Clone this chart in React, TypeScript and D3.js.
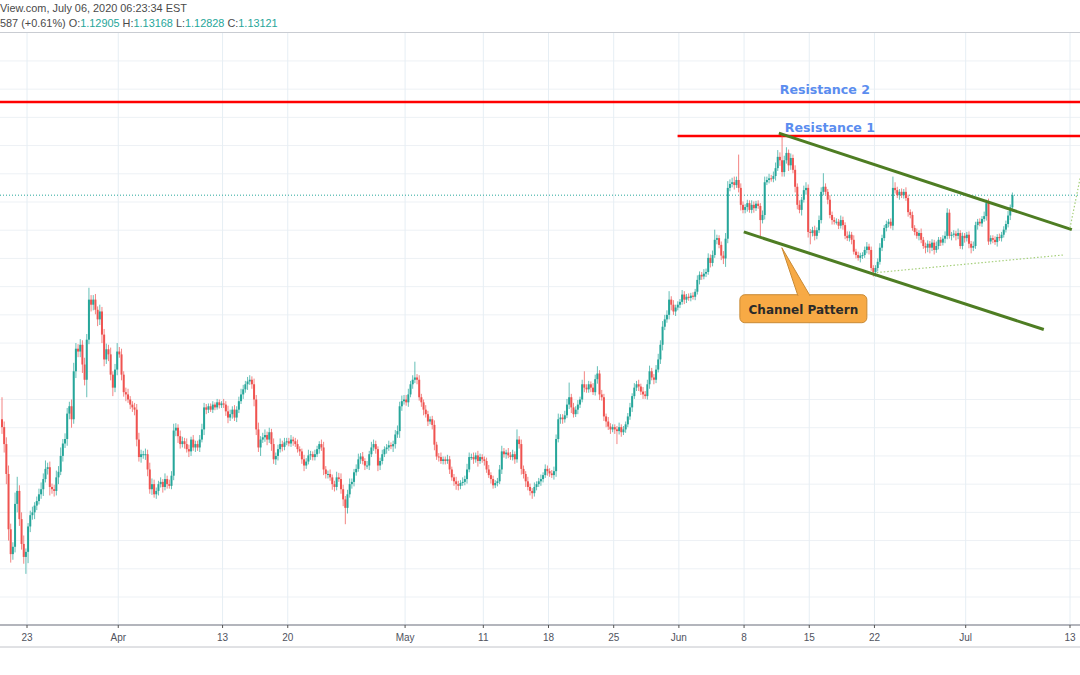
import React from "react";
import * as d3 from "d3";

// EUR/USD 4-hour candles. Closes in pips above 1.0000 (1312 = 1.1312), six candles per trading day.
const closesMar19 = [901, 871, 818, 720, 676, 689, 765, 788, 738, 694, 671, 680];
const closesMar23 = [725, 745, 750, 762, 770, 782, 791, 809, 827, 830, 795, 791, 788, 812, 822, 850, 872, 880, 925, 938, 915, 1000, 1040, 1035, 1047, 1012, 985, 1056, 1127, 1118];
const closesMar30 = [1127, 1109, 1092, 1106, 1065, 1021, 1039, 1030, 994, 971, 1003, 1035, 1030, 994, 963, 959, 950, 941, 936, 932, 879, 848, 853, 853, 853, 826, 791, 800, 782, 788];
const closesApr06 = [800, 804, 795, 809, 800, 797, 815, 895, 900, 885, 871, 876, 871, 862, 858, 879, 865, 871, 865, 879, 897, 936, 932, 938, 932, 941, 936, 945, 940, 943];
const closesApr13 = [941, 929, 918, 924, 932, 918, 932, 947, 959, 968, 977, 982, 985, 977, 950, 897, 865, 879, 883, 887, 879, 892, 871, 844, 850, 862, 871, 866, 874, 876];
const closesApr20 = [872, 879, 876, 871, 862, 858, 844, 833, 840, 851, 853, 848, 853, 862, 871, 865, 826, 818, 818, 812, 800, 795, 812, 809, 791, 773, 758, 782, 800, 804];
const closesApr27 = [821, 827, 844, 849, 841, 833, 833, 853, 865, 871, 862, 833, 841, 853, 862, 865, 869, 867, 871, 888, 894, 938, 947, 950, 945, 959, 977, 985, 989, 985];
const closesMay04 = [954, 945, 932, 924, 911, 915, 905, 870, 849, 848, 841, 844, 841, 844, 826, 812, 805, 800, 797, 802, 804, 809, 826, 848, 848, 844, 851, 841, 848, 844];
const closesMay11 = [841, 826, 816, 809, 798, 802, 805, 826, 858, 853, 856, 851, 848, 853, 844, 879, 871, 827, 818, 805, 795, 788, 784, 795, 800, 805, 809, 816, 827, 823];
const closesMay18 = [819, 816, 823, 880, 915, 918, 915, 922, 941, 954, 936, 924, 932, 941, 950, 977, 971, 968, 977, 971, 963, 986, 996, 959, 954, 920, 911, 902, 897, 901];
const closesMay25 = [897, 894, 901, 892, 897, 906, 920, 936, 956, 971, 977, 973, 964, 959, 956, 977, 1000, 989, 985, 1003, 1021, 1047, 1079, 1092, 1100, 1127, 1118, 1106, 1113, 1118];
const closesJun01 = [1123, 1136, 1127, 1132, 1130, 1134, 1132, 1141, 1162, 1171, 1168, 1173, 1176, 1201, 1192, 1206, 1233, 1236, 1224, 1205, 1200, 1235, 1325, 1332, 1335, 1330, 1339, 1325, 1295, 1286];
const closesJun08 = [1291, 1298, 1286, 1295, 1289, 1297, 1293, 1268, 1277, 1335, 1339, 1342, 1341, 1346, 1360, 1380, 1374, 1353, 1374, 1387, 1365, 1378, 1357, 1327, 1295, 1286, 1304, 1321, 1325, 1247];
const closesJun15 = [1245, 1250, 1240, 1250, 1268, 1318, 1327, 1318, 1304, 1277, 1268, 1265, 1265, 1258, 1268, 1259, 1240, 1236, 1242, 1233, 1212, 1206, 1201, 1205, 1206, 1215, 1221, 1215, 1183, 1176];
const closesJun22 = [1183, 1194, 1219, 1236, 1254, 1261, 1265, 1258, 1325, 1321, 1312, 1318, 1312, 1318, 1307, 1282, 1277, 1254, 1247, 1240, 1245, 1233, 1222, 1219, 1226, 1219, 1228, 1215, 1222, 1233];
const closesJun29 = [1228, 1235, 1240, 1281, 1240, 1242, 1244, 1240, 1245, 1222, 1240, 1236, 1242, 1226, 1219, 1222, 1259, 1265, 1262, 1270, 1275, 1298, 1230, 1236, 1233, 1229, 1238, 1236, 1242, 1251];
const closesJul06 = [1261, 1276, 1290.5, 1312.1];

// upper / lower wick lengths in pips beyond the candle body
const hiMar19 = [39, 10, 12, 15, 10, 8, 20, 25, 10, 12, 15, 6];
const loMar19 = [12, 15, 18, 20, 15, 10, 10, 15, 12, 10, 12, 30];
const hiMar23 = [6, 8, 10, 6, 8, 10, 12, 10, 15, 8, 10, 6, 8, 12, 10, 15, 8, 10, 10, 8, 12, 15, 10, 8, 10, 8, 12, 10, 21, 8];
const loMar23 = [20, 10, 8, 12, 8, 6, 8, 12, 6, 10, 15, 8, 10, 8, 12, 6, 10, 8, 12, 10, 15, 8, 12, 10, 10, 15, 10, 31, 8, 12];
const hiMar30 = [8, 10, 6, 12, 8, 10, 10, 8, 12, 6, 10, 15, 8, 10, 6, 8, 10, 6, 6, 8, 10, 12, 8, 6, 10, 8, 12, 10, 8, 6];
const loMar30 = [10, 8, 12, 10, 15, 12, 8, 12, 10, 15, 8, 10, 6, 10, 8, 12, 6, 8, 8, 10, 12, 8, 10, 8, 10, 12, 8, 10, 6, 8];
const hiApr06 = [6, 8, 5, 10, 6, 8, 8, 12, 8, 6, 10, 8, 6, 10, 8, 5, 8, 6, 6, 8, 10, 8, 6, 5, 5, 6, 4, 6, 5, 4];
const loApr06 = [8, 6, 10, 6, 8, 5, 6, 8, 10, 12, 8, 6, 8, 6, 10, 8, 6, 8, 6, 8, 5, 10, 8, 6, 4, 6, 5, 4, 6, 5];
const hiApr13 = [8, 6, 10, 8, 6, 8, 6, 8, 10, 8, 6, 8, 8, 6, 10, 8, 12, 6, 8, 10, 6, 8, 6, 10, 6, 8, 10, 6, 8, 6];
const loApr13 = [6, 8, 10, 6, 8, 6, 8, 6, 5, 8, 6, 10, 6, 8, 12, 10, 8, 15, 6, 8, 10, 6, 12, 8, 10, 8, 6, 8, 6, 5];
const hiApr20 = [6, 8, 5, 6, 8, 5, 5, 8, 6, 10, 6, 5, 8, 6, 5, 8, 10, 6, 6, 8, 5, 6, 10, 8, 10, 8, 6, 8, 10, 6];
const loApr20 = [5, 6, 8, 5, 6, 8, 8, 10, 6, 5, 8, 6, 6, 5, 8, 6, 10, 8, 8, 6, 10, 8, 6, 5, 8, 12, 29, 10, 6, 8];
const hiApr27 = [6, 8, 10, 6, 8, 5, 8, 6, 10, 8, 6, 5, 6, 8, 5, 6, 8, 5, 6, 8, 10, 8, 10, 8, 8, 10, 6, 8, 28, 6];
const loApr27 = [8, 6, 5, 8, 6, 8, 6, 8, 5, 6, 8, 10, 8, 6, 5, 8, 6, 5, 10, 8, 6, 12, 8, 6, 6, 8, 5, 8, 6, 8];
const hiMay04 = [8, 6, 5, 8, 6, 5, 6, 8, 5, 6, 8, 5, 5, 8, 6, 5, 6, 8, 6, 5, 8, 6, 10, 8, 6, 8, 5, 8, 6, 5];
const loMay04 = [6, 8, 10, 6, 8, 5, 8, 10, 6, 8, 5, 6, 6, 5, 8, 6, 8, 10, 8, 6, 5, 6, 8, 5, 5, 8, 6, 10, 5, 6];
const hiMay11 = [5, 6, 8, 5, 6, 5, 6, 8, 10, 6, 5, 8, 6, 8, 5, 18, 6, 8, 6, 5, 8, 6, 5, 8, 5, 6, 8, 5, 8, 6];
const loMay11 = [8, 6, 5, 8, 6, 5, 6, 5, 8, 6, 8, 5, 5, 6, 8, 6, 8, 10, 8, 10, 6, 8, 10, 6, 6, 5, 8, 6, 5, 8];
const hiMay18 = [5, 6, 8, 8, 10, 6, 6, 8, 10, 26, 6, 8, 6, 8, 5, 8, 23, 6, 6, 5, 8, 8, 13, 6, 8, 6, 5, 8, 6, 5];
const loMay18 = [6, 5, 8, 10, 6, 8, 8, 6, 5, 8, 10, 6, 5, 8, 6, 5, 8, 6, 6, 8, 5, 6, 8, 10, 6, 8, 10, 6, 8, 5];
const hiMay25 = [5, 6, 8, 5, 6, 5, 6, 8, 5, 8, 6, 8, 5, 8, 6, 8, 10, 6, 6, 8, 10, 8, 10, 8, 8, 15, 6, 8, 5, 6];
const loMay25 = [8, 23, 6, 8, 5, 6, 5, 6, 8, 5, 6, 8, 6, 8, 5, 6, 8, 5, 8, 6, 5, 8, 10, 6, 6, 8, 10, 6, 8, 5];
const hiJun01 = [5, 8, 6, 5, 6, 5, 6, 5, 8, 6, 5, 8, 6, 8, 6, 8, 18, 6, 5, 6, 8, 10, 12, 8, 8, 10, 6, 45, 8, 6];
const loJun01 = [6, 5, 8, 6, 5, 6, 5, 6, 5, 8, 6, 5, 6, 5, 8, 6, 5, 8, 6, 8, 10, 15, 8, 6, 6, 8, 5, 8, 10, 6];
const hiJun08 = [5, 6, 5, 8, 6, 5, 6, 5, 8, 10, 6, 8, 6, 8, 10, 12, 8, 48, 8, 10, 6, 8, 6, 8, 6, 8, 5, 8, 10, 6];
const loJun08 = [6, 8, 5, 6, 8, 5, 5, 30, 6, 8, 5, 6, 5, 6, 8, 5, 10, 8, 8, 6, 10, 8, 6, 10, 8, 6, 10, 5, 8, 10];
const hiJun15 = [5, 6, 8, 5, 8, 8, 24, 6, 5, 8, 6, 5, 6, 5, 8, 6, 5, 8, 6, 5, 8, 5, 6, 5, 5, 6, 8, 5, 6, 5];
const loJun15 = [20, 6, 8, 6, 5, 6, 6, 5, 8, 6, 8, 5, 5, 6, 5, 8, 6, 5, 6, 8, 5, 6, 5, 8, 6, 5, 6, 8, 5, 8];
const hiJun22 = [5, 6, 8, 6, 5, 6, 5, 6, 20, 10, 6, 5, 6, 5, 8, 6, 5, 6, 5, 6, 5, 8, 5, 6, 6, 5, 6, 5, 8, 5];
const loJun22 = [8, 6, 5, 6, 5, 6, 6, 5, 8, 6, 5, 8, 5, 6, 5, 8, 6, 5, 6, 5, 8, 6, 5, 10, 8, 10, 6, 8, 5, 6];
const hiJun29 = [5, 6, 8, 8, 6, 5, 6, 5, 8, 5, 6, 5, 5, 6, 5, 8, 6, 5, 6, 5, 8, 6, 8, 5, 5, 6, 5, 6, 5, 6];
const loJun29 = [6, 5, 8, 6, 5, 8, 5, 8, 6, 5, 6, 8, 6, 8, 10, 6, 5, 8, 5, 6, 5, 8, 6, 5, 6, 5, 8, 5, 6, 5];
const hiJul06 = [6, 8, 5, 4.7];
const loJul06 = [5, 6, 8, 7.7];

const firstOpen = 915; // open of the first visible candle (Mar 19)
const firstDay = -2; // Mar 19 is two trading days before Mar 23 (day 0)
const perDay = 6;

// date ticks: label and trading-day index (Mar 23 = 0)
const tickLabels = ["23", "Apr", "13", "20", "May", "11", "18", "25", "Jun", "8", "15", "22", "Jul", "13"];
const tickDays = [0, 7, 15, 20, 29, 35, 40, 45, 50, 55, 60, 65, 72, 80];
const priceGrid = d3.range(1.06, 1.1551, 0.005);

const lastPrice = 1.13121;
const resistance2 = 1.14772;
const resistance1 = 1.1417;
const resistance1StartDay = 49.9;
const channelUpper = [[57.67, 1.1422], [80.14, 1.1251]];
const channelLower = [[54.98, 1.1247], [77.99, 1.1074]];
const supportDots = [[65.18, 1.1175], [79.45, 1.1206]];
const projectionDots = [[80.0, 1.1254], [80.8, 1.1345]];
const calloutAnchor = [57.9, 1.1219];

const GREEN = "#26a69a";
const RED = "#ef5350";

export default function App() {
  const W = 1080, H = 675;
  const x = d3.scaleLinear().domain([0, 80]).range([27, 1070]);
  const y = d3.scaleLinear().domain([1.06, 1.13]).range([597, 202]);
  const plotTop = 33, plotBottom = 625;

  const closes = [closesMar19, closesMar23, closesMar30, closesApr06, closesApr13, closesApr20, closesApr27, closesMay04, closesMay11, closesMay18, closesMay25, closesJun01, closesJun08, closesJun15, closesJun22, closesJun29, closesJul06].flat();
  const his = [hiMar19, hiMar23, hiMar30, hiApr06, hiApr13, hiApr20, hiApr27, hiMay04, hiMay11, hiMay18, hiMay25, hiJun01, hiJun08, hiJun15, hiJun22, hiJun29, hiJul06].flat();
  const los = [loMar19, loMar23, loMar30, loApr06, loApr13, loApr20, loApr27, loMay04, loMay11, loMay18, loMay25, loJun01, loJun08, loJun15, loJun22, loJun29, loJul06].flat();

  const candles = closes.map((c, i) => {
    const o = i === 0 ? firstOpen : closes[i - 1];
    const hi = Math.max(o, c) + (his[i] ?? 5);
    const lo = Math.min(o, c) - (los[i] ?? 5);
    return { t: firstDay + (i + 0.5) / perDay, o: 1 + o / 10000, c: 1 + c / 10000, h: 1 + hi / 10000, l: 1 + lo / 10000 };
  });

  const bw = 2.0;
  const line = d3.line<number[]>().x((d) => x(d[0])).y((d) => y(d[1]));

  const ax = x(calloutAnchor[0]);
  const ay = y(calloutAnchor[1]);
  const boxL = ax - 42, boxR = ax + 85, boxT = ay + 47, boxB = ay + 75;

  const font = "'Liberation Sans', Arial, sans-serif";
  const bold = "'DejaVu Sans', Verdana, sans-serif";

  return (
    <svg width={W} height={H} style={{ position: "absolute", left: 0, top: 0, background: "#fff" }}>
      <rect x={0} y={0} width={W} height={H} fill="#fff" />
      {/* grid */}
      {priceGrid.map((p, i) => (
        <line key={"h" + i} x1={0} x2={W} y1={y(p)} y2={y(p)} stroke="#edf1f5" strokeWidth={1} />
      ))}
      {tickDays.map((d, i) => (
        <line key={"v" + i} x1={x(d)} x2={x(d)} y1={plotTop} y2={plotBottom} stroke="#e6eef4" strokeWidth={1} />
      ))}
      {/* header */}
      <line x1={0} x2={W} y1={32.5} y2={32.5} stroke="#c9ccd2" strokeWidth={1} />
      <text x={0} y={12} fontFamily={font} fontSize={10.9} fill="#4a4a4a">View.com, July 06, 2020 06:23:34 EST</text>
      <text x={0} y={26.5} fontFamily={font} fontSize={10.9} fill="#4a4a4a">
        587 (+0.61%) O:<tspan fill={GREEN}>1.12905</tspan> H:<tspan fill={GREEN}>1.13168</tspan> L:<tspan fill={GREEN}>1.12828</tspan> C:<tspan fill={GREEN}>1.13121</tspan>
      </text>

      {/* resistance lines */}
      <line x1={0} x2={W} y1={y(resistance2)} y2={y(resistance2)} stroke="#ff0000" strokeWidth={2.6} />
      <line x1={x(resistance1StartDay)} x2={W} y1={y(resistance1)} y2={y(resistance1)} stroke="#ff0000" strokeWidth={2.6} />

      {/* last price line */}
      <line x1={0} x2={W} y1={y(lastPrice)} y2={y(lastPrice)} stroke={GREEN} strokeWidth={1} strokeDasharray="1,2" />

      {/* candles */}
      {candles.map((k, i) => {
        const cx = x(k.t);
        const up = k.c >= k.o;
        const col = up ? GREEN : RED;
        const top = y(Math.max(k.o, k.c));
        const bot = y(Math.min(k.o, k.c));
        return (
          <g key={i}>
            <line x1={cx} x2={cx} y1={y(k.h)} y2={y(k.l)} stroke={col} strokeWidth={1} opacity={0.7} />
            <rect x={cx - bw / 2} y={top} width={bw} height={Math.max(1, bot - top)} fill={col} />
          </g>
        );
      })}

      {/* channel */}
      <path d={line(channelUpper) || ""} stroke="#4e7d23" strokeWidth={3} fill="none" />
      <path d={line(channelLower) || ""} stroke="#4e7d23" strokeWidth={3} fill="none" />
      <path d={line(supportDots) || ""} stroke="#a5cf7a" strokeWidth={1.2} strokeDasharray="1.5,2" fill="none" />
      <path d={line(projectionDots) || ""} stroke="#a5cf7a" strokeWidth={1.2} strokeDasharray="1.5,2" fill="none" />

      {/* labels */}
      <text x={x(57.74)} y={y(resistance2) - 8} fontFamily={bold} fontWeight="bold" fontSize={12.6} fill="#5b8def">Resistance 2</text>
      <text x={x(58.13)} y={y(resistance1) - 3.5} fontFamily={bold} fontWeight="bold" fontSize={12.6} fill="#5b8def">Resistance 1</text>

      {/* callout */}
      <rect x={boxL} y={boxT} width={boxR - boxL} height={boxB - boxT} rx={5} fill="#f7aa45" stroke="#c98a34" strokeWidth={1} />
      <path d={`M${ax},${ay} L${ax + 16},${boxT + 0.8} L${ax + 28},${boxT + 0.8} Z`} fill="#f7aa45" stroke="#c98a34" strokeWidth={1} strokeLinejoin="round" />
      <line x1={ax + 16.5} x2={ax + 27.5} y1={boxT + 0.8} y2={boxT + 0.8} stroke="#f7aa45" strokeWidth={2} />
      <text x={(boxL + boxR) / 2} y={boxT + 19} textAnchor="middle" fontFamily={bold} fontWeight="bold" fontSize={12} fill="#2a2a2a">Channel Pattern</text>

      {/* time axis */}
      <line x1={0} x2={W} y1={plotBottom} y2={plotBottom} stroke="#9a9da6" strokeWidth={1.5} />
      <line x1={0} x2={W} y1={647} y2={647} stroke="#c2c4ca" strokeWidth={1} />
      {tickDays.map((d, i) => (
        <g key={"t" + i}>
          <line x1={x(d)} x2={x(d)} y1={plotBottom} y2={plotBottom + 3} stroke="#555" strokeWidth={1} />
          <text x={x(d)} y={640.5} textAnchor="middle" fontFamily={font} fontSize={10} fill="#50535e">{tickLabels[i]}</text>
        </g>
      ))}
    </svg>
  );
}
